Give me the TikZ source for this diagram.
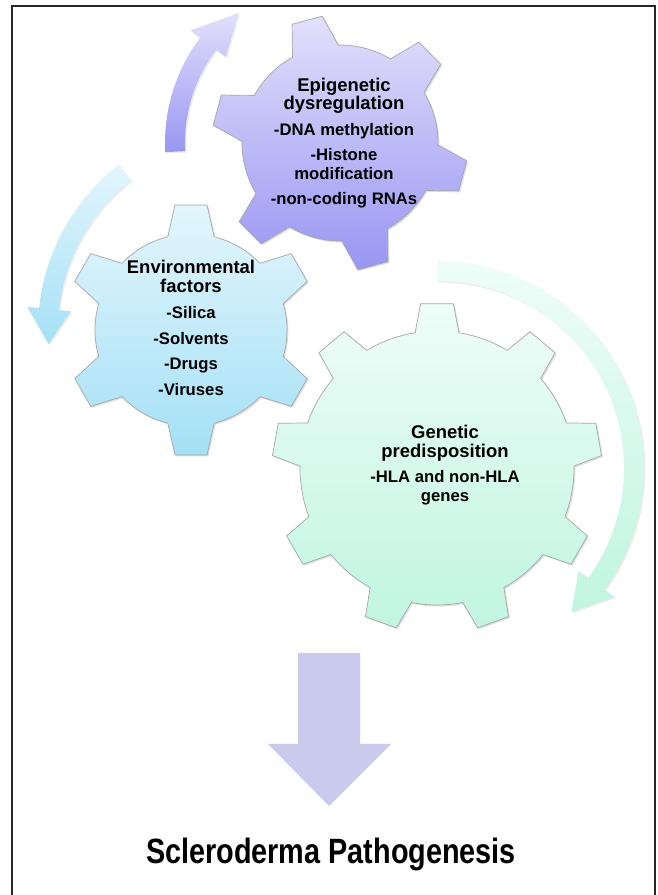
\documentclass[tikz,border=0pt]{standalone}
\usepackage{fontspec}
\setmainfont{Liberation Sans}
\usetikzlibrary{shadows}

\definecolor{epitop}{HTML}{E2E0FB}
\definecolor{epibot}{HTML}{9896F2}
\definecolor{envtop}{HTML}{E3F6FC}
\definecolor{envbot}{HTML}{A4E0F6}
\definecolor{gentop}{HTML}{EEFDF8}
\definecolor{genbot}{HTML}{C0F5E1}
\definecolor{downfill}{HTML}{C9CAEC}

\newcommand{\hd}[1]{{\fontsize{10.5}{10.5}\selectfont #1}}

\tikzset{
  cog/.style={draw=gray!70, line width=0.4pt,
    drop shadow={opacity=0.25, shadow xshift=0.8pt, shadow yshift=-0.8pt}},
  cogtext/.style={font=\bfseries\fontsize{9.5}{10.5}\selectfont, align=center, inner sep=0pt},
  turn/.style={drop shadow={opacity=0.15, shadow xshift=0.8pt, shadow yshift=-0.8pt}},
}

\begin{document}
\begin{tikzpicture}[x=0.02cm, y=0.02cm]
	\useasboundingbox (0,0) rectangle (657,895);
	\fill[white] (0,0) rectangle (657,895);
	\draw[line width=1pt, black!85] (12,-10) -- (12,889) -- (655,889) -- (655,-10);
	% genetic cog (nine teeth), drawn first so the others lie on it
	\begin{scope}[shift={(437,427)}]
		\shadedraw[cog, top color=gentop, bottom color=genbot]
			(0.8:137) \foreach \t in {10,50,...,330}
			{ -- ({\t-9.2}:137) -- ({\t-5.7}:165) -- ({\t+5.7}:165) -- ({\t+9.2}:137)
			  arc[start angle={\t+9.2}, end angle={\t+30.8}, radius=137] } -- cycle;
		\shade[turn, top color=gentop, bottom color=genbot]
			(90:207) arc[start angle=90, end angle=-36, radius=207] -- (-36:219) -- (-47:197)
			-- (-36:175) -- (-36:187) arc[start angle=-36, end angle=90, radius=187] -- cycle;
	\end{scope}
	% epigenetic cog (six teeth)
	\begin{scope}[shift={(340,752)}]
		\shadedraw[cog, top color=epitop, bottom color=epibot]
			(31:98) \foreach \t in {45,105,...,345}
			{ -- ({\t-14}:98) -- ({\t-7}:128) -- ({\t+7}:128) -- ({\t+14}:98)
			  arc[start angle={\t+14}, end angle={\t+46}, radius=98] } -- cycle;
		\shade[turn, top color=epitop, bottom color=epibot]
			(183:175) arc[start angle=183, end angle=143, radius=175] -- (143:187) -- (128:165)
			-- (143:143) -- (143:155) arc[start angle=143, end angle=183, radius=155] -- cycle;
	\end{scope}
	% environmental cog (six teeth)
	\begin{scope}[shift={(191,565)}]
		\shadedraw[cog, top color=envtop, bottom color=envbot]
			(16:96) \foreach \t in {30,90,...,330}
			{ -- ({\t-14}:96) -- ({\t-7.3}:126) -- ({\t+7.3}:126) -- ({\t+14}:96)
			  arc[start angle={\t+14}, end angle={\t+46}, radius=96] } -- cycle;
	\end{scope}
	\begin{scope}[shift={(248,565)}]
		\shade[turn, top color=envtop, bottom color=envbot]
			(128:210) arc[start angle=128, end angle=174, radius=210] -- (174:222) -- (184:200)
			-- (174:178) -- (174:190) arc[start angle=174, end angle=128, radius=190] -- cycle;
	\end{scope}
	\node[cogtext] (epi) at (344,752) {\hd{Epigenetic}\\\hd{dysregulation}\\[4pt]
		-DNA methylation\\[4pt]-Histone\\modification\\[4pt]-non-coding RNAs};
	\node[cogtext] (env) at (191,567) {\hd{Environmental}\\\hd{factors}\\[4.5pt]
		-Silica\\[4pt]-Solvents\\[4pt]-Drugs\\[4pt]-Viruses};
	\node[cogtext] (gen) at (445,430) {\hd{Genetic}\\\hd{predisposition}\\[4pt]
		-HLA and non-HLA\\genes};
	\fill[downfill] (298,242) -- (360,242) -- (360,151) -- (391,151) -- (329,89)
		-- (268,151) -- (298,151) -- cycle;
	\node[font=\bfseries\fontsize{20}{22}\selectfont] (title) at (331,41)
		{\scalebox{0.82}[1]{Scleroderma Pathogenesis}};
\end{tikzpicture}
\end{document}
